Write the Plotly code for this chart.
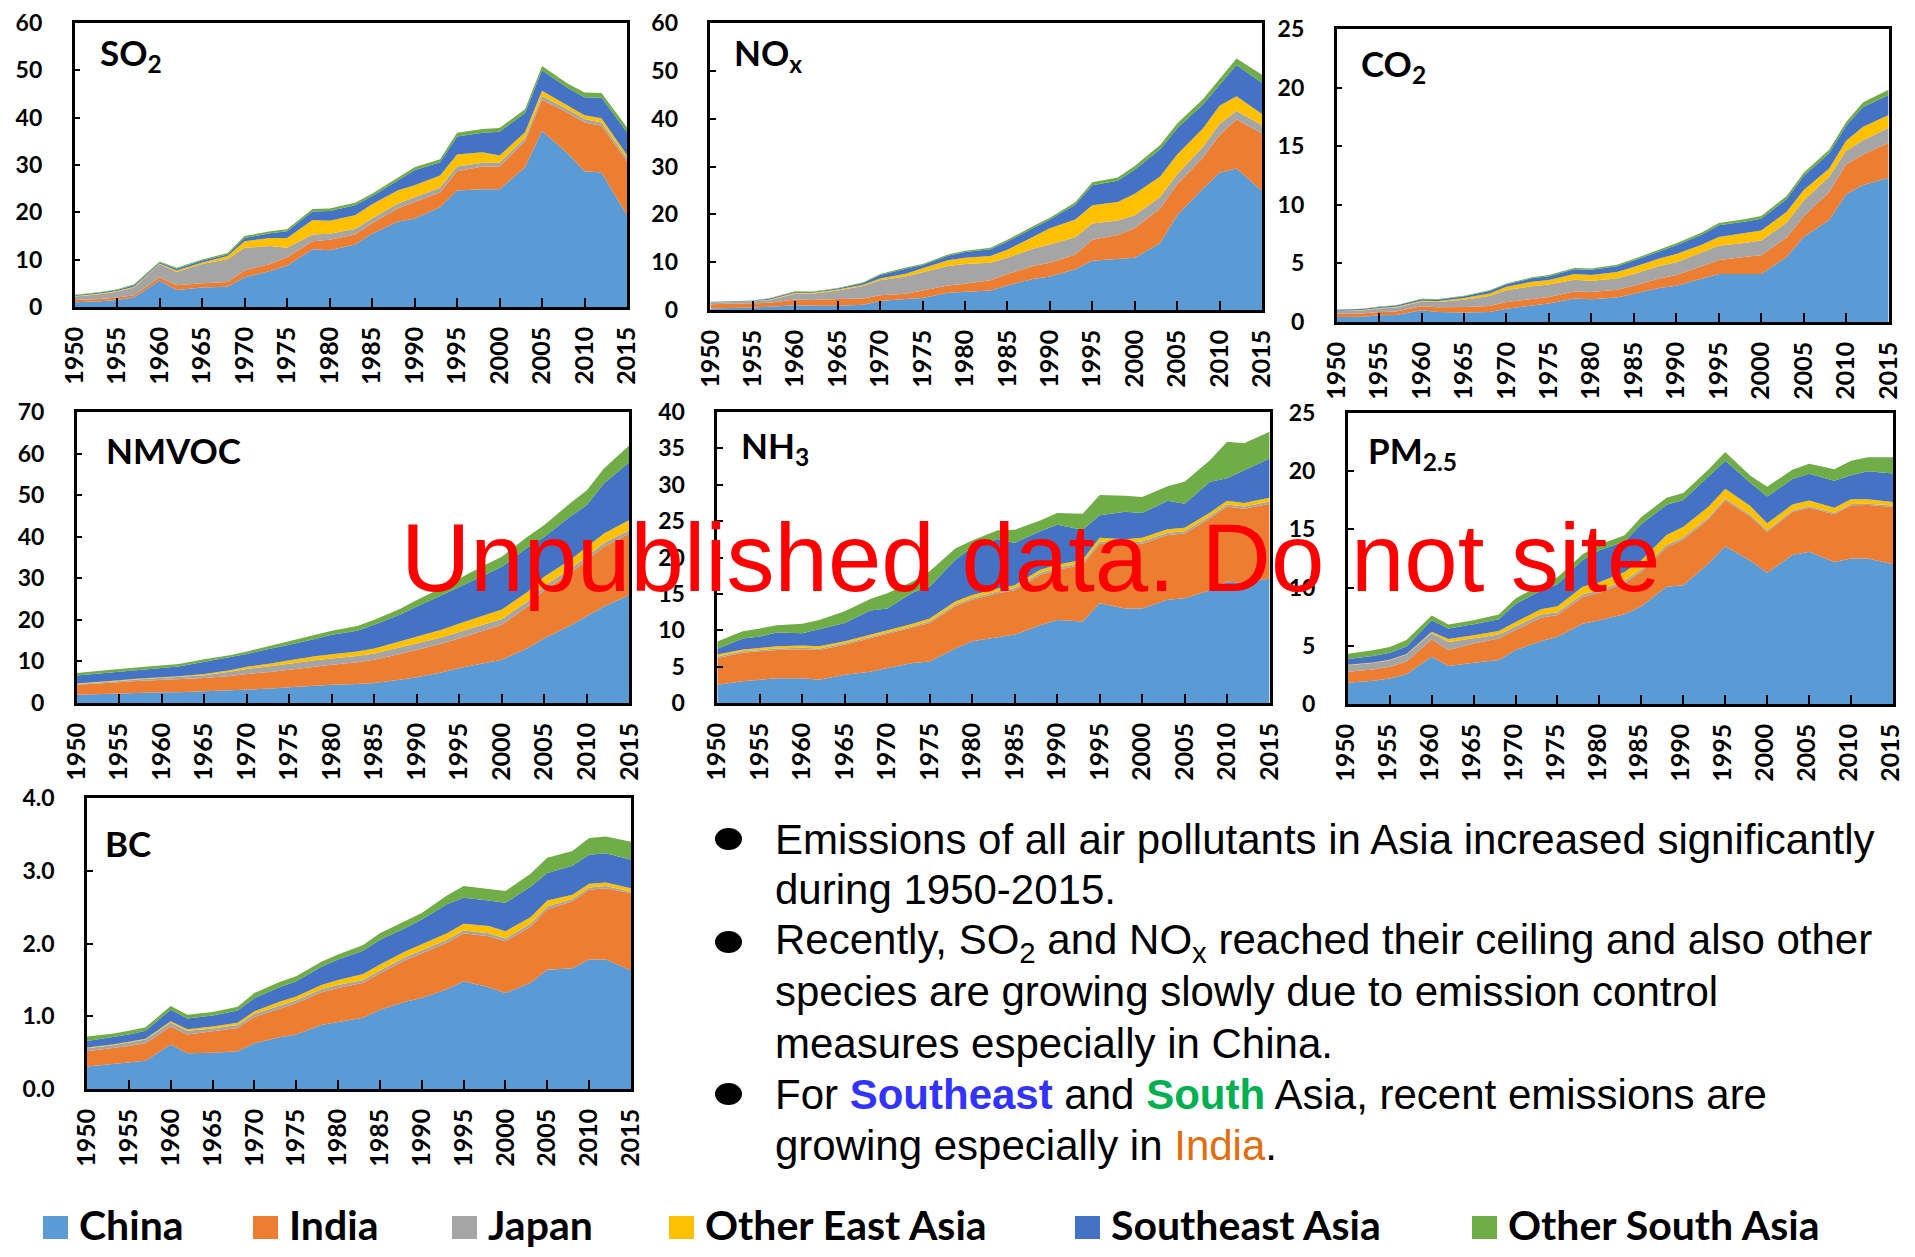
import plotly.graph_objects as go

# page is shown with the browser's default 8px body margin
OFF = 8
FW, FH = 1915 - 2 * OFF, 1257 - 2 * OFF

YEARS = [1950, 1953, 1955, 1957, 1960, 1962, 1965, 1968, 1970, 1973, 1975, 1978, 1980, 1983,
         1985, 1988, 1990, 1993, 1995, 1998, 2000, 2003, 2005, 2008, 2010, 2012, 2015]
REGIONS = ["China", "India", "Japan", "Other East Asia", "Southeast Asia", "Other South Asia"]
COLORS = ["#5B9BD5", "#ED7D31", "#A5A5A5", "#FFC000", "#4472C4", "#70AD47"]
XTICKS = [1950, 1955, 1960, 1965, 1970, 1975, 1980, 1985, 1990, 1995, 2000, 2005, 2010, 2015]

# ---- SO2 ----
SO2_CHINA = [1.0, 1.2, 1.5, 2.0, 5.6, 3.6, 4.1, 4.3, 6.3, 7.6, 8.7, 12.2, 12.0, 13.2, 15.5, 18.0, 18.7, 21.1, 24.6, 24.9, 24.9, 29.5, 37.2, 32.5, 28.7, 28.4, 19.4]
SO2_INDIA = [0.5, 0.5, 0.5, 0.5, 0.7, 1.0, 0.9, 1.0, 1.4, 1.5, 1.8, 1.7, 2.2, 2.1, 2.2, 2.8, 3.5, 3.1, 4.1, 4.8, 4.8, 5.5, 6.6, 8.6, 10.3, 9.9, 11.4]
SO2_JAPAN = [0.7, 1.0, 1.2, 1.6, 2.8, 2.8, 4.1, 4.8, 4.8, 3.8, 2.0, 1.4, 1.3, 1.2, 1.0, 1.0, 1.0, 1.0, 1.0, 0.8, 0.8, 0.7, 0.8, 0.7, 0.7, 0.7, 0.6]
SO2_OEA = [0.1, 0.15, 0.2, 0.2, 0.1, 0.3, 0.3, 0.7, 1.4, 1.7, 2.1, 3.1, 2.7, 2.9, 3.0, 2.8, 2.5, 2.6, 2.5, 2.2, 1.5, 1.2, 1.1, 0.8, 0.8, 0.9, 0.7]
SO2_SEA = [0.2, 0.2, 0.2, 0.3, 0.2, 0.4, 0.4, 0.3, 0.7, 1.0, 1.4, 1.8, 2.1, 2.1, 1.7, 2.0, 3.2, 2.8, 3.8, 4.1, 5.0, 4.1, 4.3, 3.7, 3.8, 4.3, 4.8]
SO2_OSA = [0.1, 0.1, 0.15, 0.2, 0.2, 0.2, 0.25, 0.3, 0.4, 0.4, 0.4, 0.5, 0.5, 0.5, 0.5, 0.6, 0.6, 0.6, 0.8, 0.8, 0.8, 0.8, 0.9, 0.9, 1.0, 1.0, 1.0]

# ---- NOx ----
NOX_CHINA = [0.3, 0.4, 0.5, 0.7, 1.0, 0.9, 0.9, 1.1, 1.9, 2.3, 2.5, 3.6, 3.8, 4.1, 5.1, 6.5, 7.0, 8.5, 10.3, 10.6, 10.9, 14.0, 19.8, 25.3, 28.7, 29.6, 24.9]
NOX_INDIA = [0.9, 0.9, 0.9, 0.8, 1.2, 1.2, 1.4, 1.3, 1.2, 1.1, 1.6, 1.5, 1.7, 2.1, 2.4, 2.7, 2.9, 3.1, 4.4, 5.1, 6.2, 7.2, 6.5, 6.5, 7.9, 10.2, 12.0]
NOX_JAPAN = [0.3, 0.35, 0.4, 0.6, 1.2, 1.3, 1.8, 2.6, 3.1, 3.6, 3.8, 4.1, 4.1, 3.7, 3.4, 3.6, 3.8, 3.6, 3.4, 3.0, 2.7, 2.4, 2.1, 2.2, 2.3, 1.8, 1.7]
NOX_OEA = [0.05, 0.05, 0.05, 0.1, 0.2, 0.2, 0.2, 0.3, 0.4, 0.6, 0.8, 1.2, 1.3, 1.4, 1.7, 2.6, 3.4, 3.7, 3.8, 3.9, 4.5, 4.3, 4.1, 3.9, 3.8, 3.1, 2.4]
NOX_SEA = [0.1, 0.1, 0.1, 0.2, 0.2, 0.15, 0.2, 0.35, 0.7, 1.0, 0.7, 0.95, 1.2, 1.4, 1.7, 1.7, 1.8, 3.1, 4.2, 4.4, 5.0, 5.7, 5.5, 5.0, 4.4, 6.5, 6.5]
NOX_OSA = [0.05, 0.05, 0.05, 0.1, 0.1, 0.1, 0.1, 0.15, 0.2, 0.3, 0.2, 0.25, 0.3, 0.3, 0.4, 0.4, 0.4, 0.5, 0.6, 0.7, 0.8, 0.9, 1.0, 1.1, 1.2, 1.4, 1.7]

# ---- CO2 ----
CO2_CHINA = [0.43, 0.45, 0.57, 0.6, 1.0, 0.85, 0.8, 0.85, 1.14, 1.4, 1.57, 2.0, 1.94, 2.1, 2.4, 2.9, 3.1, 3.7, 4.1, 4.1, 4.1, 5.55, 7.26, 8.7, 10.9, 11.7, 12.3]
CO2_INDIA = [0.27, 0.28, 0.28, 0.3, 0.34, 0.4, 0.48, 0.52, 0.56, 0.56, 0.57, 0.6, 0.62, 0.66, 0.7, 0.82, 0.9, 1.05, 1.2, 1.45, 1.6, 1.65, 1.75, 2.4, 2.56, 2.6, 3.0]
CO2_JAPAN = [0.24, 0.26, 0.3, 0.33, 0.38, 0.45, 0.62, 0.85, 1.0, 1.1, 1.05, 1.0, 0.95, 0.95, 1.0, 1.05, 1.1, 1.15, 1.2, 1.2, 1.25, 1.3, 1.35, 1.3, 1.15, 1.2, 1.28]
CO2_OEA = [0.03, 0.04, 0.05, 0.07, 0.1, 0.1, 0.15, 0.22, 0.3, 0.37, 0.4, 0.5, 0.5, 0.55, 0.6, 0.65, 0.7, 0.7, 0.75, 0.8, 0.85, 0.9, 0.9, 0.7, 0.85, 1.15, 1.08]
CO2_SEA = [0.07, 0.08, 0.09, 0.1, 0.12, 0.12, 0.15, 0.2, 0.22, 0.3, 0.32, 0.4, 0.45, 0.5, 0.55, 0.65, 0.75, 0.85, 1.0, 1.0, 1.0, 1.1, 1.2, 1.3, 1.3, 1.7, 1.7]
CO2_OSA = [0.02, 0.03, 0.03, 0.03, 0.04, 0.04, 0.05, 0.06, 0.07, 0.08, 0.09, 0.1, 0.11, 0.12, 0.13, 0.15, 0.17, 0.19, 0.2, 0.22, 0.24, 0.26, 0.28, 0.3, 0.3, 0.4, 0.45]

# ---- NMVOC ----
NMVOC_CHINA = [2.0, 2.1, 2.2, 2.4, 2.6, 2.6, 2.8, 3.0, 3.2, 3.5, 3.8, 4.2, 4.4, 4.6, 4.8, 5.6, 6.2, 7.4, 8.4, 9.6, 10.4, 13.2, 15.6, 18.6, 20.8, 23.2, 26.0]
NMVOC_INDIA = [2.4, 2.6, 2.8, 2.9, 3.0, 3.1, 3.2, 3.5, 3.8, 4.0, 4.2, 4.6, 4.8, 5.2, 5.6, 6.2, 6.6, 6.9, 7.2, 7.9, 8.4, 10.0, 11.6, 12.6, 13.6, 14.4, 14.8]
NMVOC_JAPAN = [0.2, 0.25, 0.3, 0.35, 0.4, 0.5, 0.7, 1.0, 1.2, 1.4, 1.5, 1.5, 1.5, 1.5, 1.5, 1.5, 1.5, 1.5, 1.5, 1.45, 1.4, 1.2, 1.0, 0.95, 0.9, 0.85, 0.8]
NMVOC_OEA = [0.1, 0.12, 0.15, 0.18, 0.2, 0.25, 0.3, 0.4, 0.5, 0.65, 0.8, 0.95, 1.0, 1.1, 1.2, 1.5, 1.7, 1.9, 2.0, 2.2, 2.3, 2.3, 2.2, 2.2, 2.2, 2.3, 2.4]
NMVOC_SEA = [1.9, 2.03, 2.05, 2.07, 2.2, 2.35, 2.9, 3.0, 3.1, 3.65, 3.7, 4.15, 4.7, 5.0, 5.7, 6.4, 7.2, 8.3, 8.9, 9.85, 10.3, 10.7, 9.6, 10.45, 10.1, 12.05, 14.0]
NMVOC_OSA = [0.6, 0.6, 0.65, 0.65, 0.6, 0.6, 0.65, 0.6, 0.6, 0.7, 0.8, 0.9, 1.0, 1.1, 1.2, 1.4, 1.6, 1.8, 2.0, 2.2, 2.4, 2.6, 2.8, 3.2, 3.6, 3.6, 4.0]

# ---- NH3 ----
NH3_CHINA = [2.5, 3.0, 3.2, 3.4, 3.4, 3.2, 3.9, 4.3, 4.8, 5.5, 5.7, 7.5, 8.5, 9.1, 9.4, 10.7, 11.4, 11.2, 13.7, 13.0, 13.0, 14.2, 14.4, 15.5, 16.7, 16.5, 17.1]
NH3_INDIA = [3.7, 3.9, 3.9, 3.9, 4.0, 4.1, 4.1, 4.6, 4.6, 4.8, 5.3, 5.8, 5.7, 6.0, 6.1, 6.9, 6.9, 7.8, 8.2, 8.7, 8.9, 8.9, 8.9, 9.9, 10.3, 10.2, 10.3]
NH3_JAPAN = [0.2, 0.2, 0.2, 0.2, 0.2, 0.2, 0.2, 0.2, 0.2, 0.25, 0.25, 0.25, 0.25, 0.25, 0.3, 0.3, 0.3, 0.3, 0.3, 0.3, 0.3, 0.3, 0.3, 0.3, 0.3, 0.3, 0.3]
NH3_OEA = [0.25, 0.25, 0.25, 0.3, 0.3, 0.3, 0.3, 0.3, 0.3, 0.35, 0.35, 0.4, 0.4, 0.4, 0.4, 0.4, 0.4, 0.4, 0.5, 0.5, 0.5, 0.5, 0.5, 0.5, 0.5, 0.5, 0.5]
NH3_SEA = [0.8, 1.5, 1.6, 1.9, 1.7, 2.4, 2.5, 3.3, 3.1, 4.3, 4.4, 5.7, 6.6, 6.8, 5.8, 5.3, 5.5, 4.1, 3.1, 3.8, 3.4, 3.9, 3.3, 4.2, 3.1, 4.5, 5.4]
NH3_OSA = [1.0, 1.0, 1.1, 1.0, 1.3, 1.2, 1.6, 1.6, 2.1, 1.5, 2.1, 1.6, 0.9, 1.2, 1.8, 1.5, 1.6, 2.2, 2.8, 2.2, 2.2, 2.0, 3.0, 3.0, 5.0, 3.7, 3.7]

# ---- PM2.5 ----
PM25_CHINA = [1.83, 2.0, 2.2, 2.55, 4.06, 3.26, 3.55, 3.78, 4.63, 5.4, 5.78, 6.9, 7.2, 7.7, 8.4, 10.07, 10.2, 12.07, 13.56, 12.3, 11.27, 12.8, 13.07, 12.2, 12.5, 12.5, 12.0]
PM25_INDIA = [0.94, 0.97, 1.0, 1.1, 1.49, 1.37, 1.65, 1.85, 1.72, 2.0, 1.86, 2.3, 2.35, 2.7, 2.96, 3.4, 3.93, 3.8, 3.94, 3.8, 3.5, 3.7, 3.8, 4.1, 4.58, 4.6, 4.93]
PM25_JAPAN = [0.55, 0.55, 0.55, 0.6, 0.55, 0.7, 0.45, 0.35, 0.3, 0.28, 0.25, 0.22, 0.2, 0.2, 0.2, 0.2, 0.2, 0.18, 0.15, 0.15, 0.15, 0.13, 0.12, 0.12, 0.1, 0.1, 0.12]
PM25_OEA = [0.05, 0.05, 0.05, 0.05, 0.1, 0.25, 0.25, 0.3, 0.4, 0.45, 0.5, 0.65, 0.7, 0.75, 0.8, 0.85, 0.9, 0.9, 0.85, 0.75, 0.6, 0.5, 0.5, 0.45, 0.4, 0.4, 0.3]
PM25_SEA = [0.5, 0.55, 0.6, 0.65, 1.0, 0.9, 0.95, 1.0, 1.55, 1.6, 1.9, 2.3, 2.75, 2.6, 3.1, 2.6, 2.3, 2.6, 2.4, 2.0, 2.3, 2.2, 2.3, 2.3, 2.07, 2.4, 2.45]
PM25_OSA = [0.45, 0.5, 0.5, 0.55, 0.4, 0.35, 0.35, 0.4, 0.47, 0.5, 0.6, 0.5, 0.5, 0.55, 0.6, 0.6, 0.6, 0.6, 0.75, 0.6, 0.85, 0.8, 0.85, 1.0, 1.25, 1.2, 1.4]

# ---- BC ----
BC_CHINA = [0.31, 0.34, 0.36, 0.39, 0.61, 0.49, 0.5, 0.52, 0.63, 0.71, 0.75, 0.88, 0.92, 0.98, 1.09, 1.2, 1.25, 1.37, 1.48, 1.4, 1.32, 1.46, 1.64, 1.66, 1.78, 1.78, 1.63]
BC_INDIA = [0.21, 0.22, 0.23, 0.24, 0.25, 0.26, 0.29, 0.32, 0.36, 0.4, 0.43, 0.45, 0.47, 0.48, 0.5, 0.57, 0.62, 0.64, 0.66, 0.7, 0.71, 0.77, 0.83, 0.92, 0.96, 0.98, 1.06]
BC_JAPAN = [0.04, 0.04, 0.05, 0.05, 0.05, 0.05, 0.04, 0.04, 0.04, 0.04, 0.04, 0.04, 0.04, 0.04, 0.04, 0.04, 0.04, 0.04, 0.04, 0.04, 0.04, 0.04, 0.04, 0.03, 0.03, 0.03, 0.02]
BC_OEA = [0.01, 0.01, 0.01, 0.01, 0.02, 0.02, 0.03, 0.03, 0.04, 0.05, 0.05, 0.06, 0.07, 0.08, 0.08, 0.08, 0.08, 0.09, 0.09, 0.1, 0.1, 0.09, 0.08, 0.06, 0.05, 0.05, 0.05]
BC_SEA = [0.09, 0.1, 0.1, 0.11, 0.16, 0.15, 0.15, 0.17, 0.18, 0.2, 0.21, 0.25, 0.28, 0.32, 0.34, 0.32, 0.34, 0.4, 0.36, 0.35, 0.39, 0.42, 0.38, 0.4, 0.4, 0.4, 0.39]
BC_OSA = [0.06, 0.05, 0.05, 0.05, 0.05, 0.05, 0.05, 0.05, 0.07, 0.07, 0.07, 0.07, 0.07, 0.08, 0.09, 0.1, 0.09, 0.12, 0.16, 0.16, 0.16, 0.18, 0.21, 0.2, 0.23, 0.23, 0.25]

BULLET_LINES = [
    "Emissions of all air pollutants in Asia increased significantly",
    "during 1950-2015.",
    "Recently, SO<sub>2</sub> and NO<sub>x</sub> reached their ceiling and also other",
    "species are growing slowly due to emission control",
    "measures especially in China.",
    "For <b><span style='color:#3333FF'>Southeast</span></b> and "
    "<b><span style='color:#00B050'>South</span></b> Asia, recent emissions are",
    "growing especially in <span style='color:#E46C0A'>India</span>.",
]
WATERMARK = "Unpublished data. Do not site"

# ---- panel configuration (layout only; page pixel coordinates) ----
PANELS = [
    dict(title="<b>SO<sub>2</sub></b>", data=[SO2_CHINA, SO2_INDIA, SO2_JAPAN, SO2_OEA, SO2_SEA, SO2_OSA],
         ymax=60, dtick=10, fmt="d", box=(74.6, 627, 23, 307), tpos=(98, 54), shift=0),
    dict(title="<b>NO<sub>x</sub></b>", data=[NOX_CHINA, NOX_INDIA, NOX_JAPAN, NOX_OEA, NOX_SEA, NOX_OSA],
         ymax=60, dtick=10, fmt="d", box=(710.4, 1262, 23, 310), tpos=(731.6, 54), shift=0),
    dict(title="<b>CO<sub>2</sub></b>", data=[CO2_CHINA, CO2_INDIA, CO2_JAPAN, CO2_OEA, CO2_SEA, CO2_OSA],
         ymax=25, dtick=5, fmt="d", box=(1336.6, 1888.6, 29, 322), tpos=(1358.6, 66), shift=0),
    dict(title="<b>NMVOC</b>", data=[NMVOC_CHINA, NMVOC_INDIA, NMVOC_JAPAN, NMVOC_OEA, NMVOC_SEA, NMVOC_OSA],
         ymax=70, dtick=10, fmt="d", box=(76.7, 629.4, 412, 703), tpos=(103.6, 450), shift=0),
    dict(title="<b>NH<sub>3</sub></b>", data=[NH3_CHINA, NH3_INDIA, NH3_JAPAN, NH3_OEA, NH3_SEA, NH3_OSA],
         ymax=40, dtick=5, fmt="d", box=(717.3, 1269.6, 412, 703), tpos=(739, 447), shift=0),
    dict(title="<b>PM<sub>2.5</sub></b>", data=[PM25_CHINA, PM25_INDIA, PM25_JAPAN, PM25_OEA, PM25_SEA, PM25_OSA],
         ymax=25, dtick=5, fmt="d", box=(1347.8, 1893, 413, 704), tpos=(1365.7, 452), shift=-2),
    dict(title="<b>BC</b>", data=[BC_CHINA, BC_INDIA, BC_JAPAN, BC_OEA, BC_SEA, BC_OSA],
         ymax=4.0, dtick=1.0, fmt=".1f", box=(87, 631, 798, 1089), tpos=(102.8, 842.5), shift=0),
]


def px(x):
    return (x - OFF) / FW


def py(y):
    return 1 - (y - OFF) / FH


fig = go.Figure()
layout = {}
annotations = []
shapes = []
TICKFONT_Y = dict(family="Lato", size=23, color="black", weight="bold")
TICKFONT_X = dict(family="Lato", size=25, color="black", weight="bold")

for i, p in enumerate(PANELS):
    n = i + 1
    sfx = "" if n == 1 else str(n)
    for name, vals, col in zip(REGIONS, p["data"], COLORS):
        fig.add_trace(go.Scatter(
            x=YEARS, y=vals, name=name, mode="lines", stackgroup="g" + str(n),
            line=dict(width=0, color=col), fillcolor=col,
            xaxis="x" + sfx, yaxis="y" + sfx, showlegend=False, hoverinfo="skip"))
    x0, x1, yt, yb = p["box"]
    layout["xaxis" + sfx] = dict(
        domain=[px(x0), px(x1)], anchor="y" + sfx, range=[1950, 2015],
        tickmode="array", tickvals=XTICKS, tickangle=-90,
        ticks="inside", ticklen=9, tickwidth=2, tickcolor="black",
        showline=True, linecolor="black", linewidth=2.5, mirror=True, automargin=False,
        showgrid=False, zeroline=False, tickfont=TICKFONT_X, ticklabelstandoff=7,
        ticklabelshift=p["shift"], ticklabeloverflow="allow")
    layout["yaxis" + sfx] = dict(
        domain=[py(yb), py(yt)], anchor="x" + sfx, range=[0, p["ymax"]],
        tick0=0, dtick=p["dtick"], tickformat=p["fmt"],
        ticks="inside", ticklen=6, tickwidth=2, tickcolor="black",
        showline=True, linecolor="black", linewidth=2.5, mirror=True, automargin=False,
        showgrid=False, zeroline=False, tickfont=TICKFONT_Y, ticklabelstandoff=25,
        ticklabeloverflow="allow")
    tx, ty = p["tpos"]
    annotations.append(dict(
        text=p["title"], x=px(tx), y=py(ty), xref="paper", yref="paper",
        xanchor="left", yanchor="middle", showarrow=False,
        font=dict(family="Lato", size=35, color="black")))

# bullet text
LINE_Y = [839, 890, 942, 992, 1043, 1094, 1145]
for txt, ly in zip(BULLET_LINES, LINE_Y):
    annotations.append(dict(
        text=txt, x=px(773), y=py(ly), xref="paper", yref="paper",
        xanchor="left", yanchor="middle", showarrow=False,
        font=dict(family="Liberation Sans, Arial", size=42, color="black")))
for by in [LINE_Y[0], LINE_Y[2], LINE_Y[5]]:
    shapes.append(dict(type="circle", xref="paper", yref="paper",
                       x0=px(715), x1=px(742), y0=py(by + 11), y1=py(by - 11),
                       fillcolor="black", line=dict(width=0)))

# legend (manual)
LEG_SQ = [43, 253, 452, 669, 1075, 1472]
for name, col, sx in zip(REGIONS, COLORS, LEG_SQ):
    shapes.append(dict(type="rect", xref="paper", yref="paper",
                       x0=px(sx), x1=px(sx + 25), y0=py(1239), y1=py(1216),
                       fillcolor=col, line=dict(width=0)))
    annotations.append(dict(
        text=name, x=px(sx + 34), y=py(1224), xref="paper", yref="paper",
        xanchor="left", yanchor="middle", showarrow=False,
        font=dict(family="Lato", size=41, color="black", weight="bold")))

# watermark
annotations.append(dict(
    text=WATERMARK, x=px(1030), y=py(557), xref="paper", yref="paper",
    xanchor="center", yanchor="middle", showarrow=False,
    font=dict(family="Liberation Sans, Arial", size=96, color="#FF0000")))

fig.update_layout(
    width=FW, height=FH, margin=dict(l=0, r=0, t=0, b=0),
    paper_bgcolor="white", plot_bgcolor="white",
    showlegend=False, annotations=annotations, shapes=shapes, **layout)

fig.write_html("out.html", config={"displayModeBar": False})
